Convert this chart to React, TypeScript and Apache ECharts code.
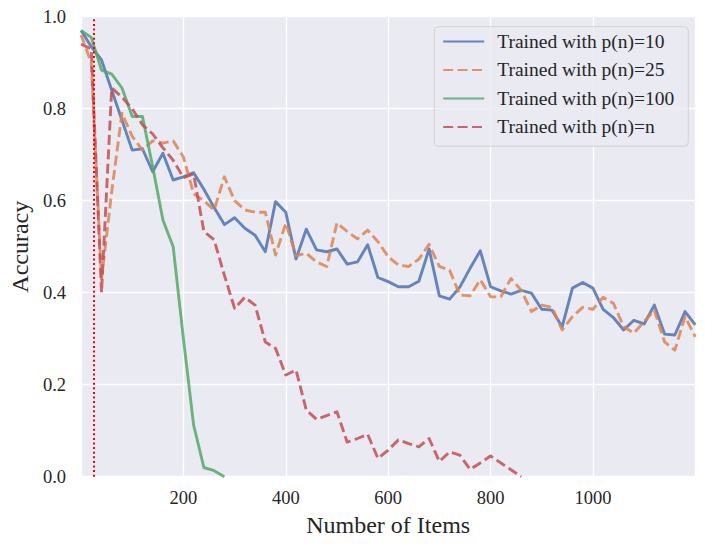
import React, { useEffect, useRef } from "react";
import * as echarts from "echarts";

const X_VALUES = [
  0, 20, 40, 60, 80, 100, 120, 140, 160, 180, 200, 220, 240, 260, 280, 300,
  320, 340, 360, 380, 400, 420, 440, 460, 480, 500, 520, 540, 560, 580, 600,
  620, 640, 660, 680, 700, 720, 740, 760, 780, 800, 820, 840, 860, 880, 900,
  920, 940, 960, 980, 1000, 1020, 1040, 1060, 1080, 1100, 1120, 1140, 1160,
  1180, 1200,
];

const ACC_P10 = [
  0.97, 0.935, 0.906, 0.84, 0.775, 0.71, 0.713, 0.663, 0.703, 0.645, 0.652,
  0.661, 0.625, 0.585, 0.548, 0.563, 0.54, 0.525, 0.489, 0.598, 0.575, 0.473,
  0.538, 0.493, 0.489, 0.495, 0.462, 0.467, 0.504, 0.433, 0.424, 0.413, 0.413,
  0.425, 0.495, 0.393, 0.386, 0.412, 0.453, 0.491, 0.413, 0.404, 0.397, 0.405,
  0.399, 0.364, 0.362, 0.326, 0.41, 0.422, 0.41, 0.364, 0.346, 0.319, 0.34,
  0.332, 0.373, 0.31, 0.308, 0.359, 0.33,
];

const ACC_P25 = [
  0.96, 0.9, 0.43, 0.62, 0.79, 0.74, 0.71, 0.73, 0.725, 0.73, 0.695, 0.615,
  0.6, 0.58, 0.652, 0.6, 0.58, 0.575, 0.575, 0.482, 0.551, 0.48, 0.486, 0.467,
  0.457, 0.552, 0.533, 0.517, 0.536, 0.511, 0.478, 0.46, 0.457, 0.473, 0.505,
  0.457, 0.449, 0.395, 0.393, 0.428, 0.391, 0.391, 0.431, 0.405, 0.359, 0.373,
  0.368, 0.319, 0.348, 0.368, 0.364, 0.39, 0.377, 0.326, 0.312, 0.337, 0.362,
  0.293, 0.275, 0.348, 0.304,
];

const ACC_P100 = [
  0.97, 0.955, 0.884, 0.875, 0.845, 0.783, 0.783, 0.674, 0.558, 0.5, 0.3,
  0.112, 0.02, 0.013, 0.0,
];

const ACC_PN = [
  0.94, 0.93, 0.4, 0.845, 0.825, 0.8, 0.765, 0.745, 0.715, 0.688, 0.65, 0.658,
  0.533, 0.515, 0.438, 0.366, 0.39, 0.373, 0.293, 0.279, 0.221, 0.232, 0.145,
  0.125, 0.133, 0.141, 0.075, 0.083, 0.092, 0.04, 0.058, 0.08, 0.072, 0.065,
  0.083, 0.033, 0.054, 0.047, 0.016, 0.03, 0.045, 0.03, 0.015, 0.0,
];

const SERIES_NAMES = [
  "Trained with p(n)=10",
  "Trained with p(n)=25",
  "Trained with p(n)=100",
  "Trained with p(n)=n",
];
const SERIES_COLORS = ["#4C72B0", "#DD8452", "#55A868", "#C44E52"];
const SERIES_DASHED = [false, true, false, true];
const MARKER_X = 25;
const X_TITLE = "Number of Items";
const Y_TITLE = "Accuracy";

const FONT = "'Liberation Serif', 'DejaVu Serif', serif";
const TEXT = "#262626";

function pairs(ys: number[]) {
  return ys.map((y, i) => [X_VALUES[i], y]);
}

export default function App() {
  const ref = useRef<HTMLDivElement>(null);
  useEffect(() => {
    if (!ref.current) return;
    const chart = echarts.init(ref.current, undefined, { renderer: "svg" });
    const allData = [ACC_P10, ACC_P25, ACC_P100, ACC_PN];
    const series: any[] = allData.map((d, i) => ({
      name: SERIES_NAMES[i],
      type: "line",
      data: pairs(d),
      symbol: "none",
      showSymbol: false,
      z: 2 + i,
      itemStyle: { color: SERIES_COLORS[i] },
      lineStyle: {
        color: SERIES_COLORS[i],
        width: 2.9,
        opacity: 0.85,
        type: SERIES_DASHED[i] ? [10, 4.4] : "solid",
        cap: "butt",
        join: "round",
      },
    }));
    series[0].markLine = {
      silent: true,
      symbol: "none",
      label: { show: false },
      lineStyle: { color: "#ff0000", width: 2, type: [2, 2.6], opacity: 1 },
      data: [{ xAxis: MARKER_X }],
      z: 10,
    };
    chart.setOption({
      animation: false,
      backgroundColor: "#ffffff",
      grid: {
        left: 76.7,
        right: 9.7,
        top: 16.7,
        bottom: 70.3,
        show: true,
        backgroundColor: "#EAEAF2",
        borderWidth: 0,
      },
      xAxis: {
        type: "value",
        min: 0,
        max: 1200,
        interval: 200,
        axisLine: { show: false },
        axisTick: { show: false },
        splitLine: { show: true, lineStyle: { color: "#ffffff", width: 1.3 } },
        axisLabel: {
          showMinLabel: false,
          showMaxLabel: false,
          fontFamily: FONT,
          fontSize: 18.5,
          color: TEXT,
          margin: 12,
          formatter: (v: number) => String(v),
        },
        name: X_TITLE,
        nameLocation: "middle",
        nameGap: 32,
        nameTextStyle: { fontFamily: FONT, fontSize: 24, color: TEXT },
      },
      yAxis: {
        type: "value",
        min: 0,
        max: 1,
        interval: 0.2,
        axisLine: { show: false },
        axisTick: { show: false },
        splitLine: { show: true, lineStyle: { color: "#ffffff", width: 1.3 } },
        axisLabel: {
          fontFamily: FONT,
          fontSize: 18.5,
          color: TEXT,
          margin: 15,
          formatter: (v: number) => v.toFixed(1),
        },
        name: Y_TITLE,
        nameLocation: "middle",
        nameGap: 43,
        nameTextStyle: { fontFamily: FONT, fontSize: 24, color: TEXT },
      },
      legend: {
        orient: "vertical",
        right: 16.7,
        top: 26.7,
        itemWidth: 41,
        itemHeight: 14,
        itemGap: 8.5,
        padding: [4.7, 14, 9.3, 8],
        backgroundColor: "rgba(234,234,242,0.8)",
        borderColor: "rgba(204,204,204,0.8)",
        borderWidth: 1,
        borderRadius: 4,
        itemStyle: { opacity: 0 },
        textStyle: {
          fontFamily: FONT,
          fontSize: 19.5,
          color: TEXT,
          padding: [0, 0, 0, 8],
        },
        data: SERIES_NAMES,
      },
      series,
    });
    return () => chart.dispose();
  }, []);
  return (
    <div
      ref={ref}
      style={{ position: "fixed", left: 0, top: 0, width: 705, height: 547 }}
    />
  );
}
